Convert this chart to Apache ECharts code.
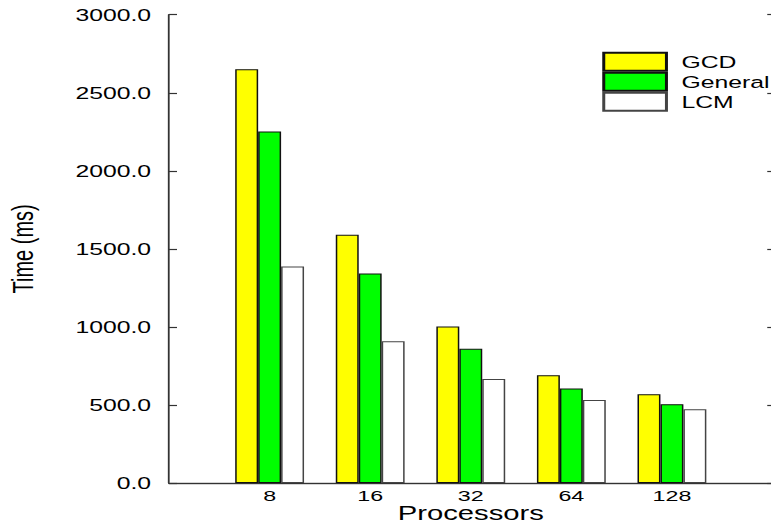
<!DOCTYPE html>
<html>
<head>
<meta charset="utf-8">
<script src="https://cdn.jsdelivr.net/npm/echarts@6/dist/echarts.min.js"></script>
<style>
  html, body { margin: 0; padding: 0; background: #fff; overflow: hidden; }
  #wrap { width: 771px; height: 525px; overflow: hidden; }
  #chart { width: 514px; height: 525px; transform: scaleX(1.5); transform-origin: 0 0; }
</style>
</head>
<body>
<div id="wrap"><div id="chart"></div></div>
<script>
// Data
const categories = ['', '8', '16', '32', '64', '128', ''];
const seriesNames = ['GCD', 'General', 'LCM'];
const gcdValues = [null, 2650, 1590, 1002, 690, 568, null];
const generalValues = [null, 2252, 1342, 860, 606, 505, null];
const lcmValues = [null, 1387, 908, 667, 531, 472, null];
const yTicks = [0, 500, 1000, 1500, 2000, 2500, 3000];

const FONT = "'Liberation Sans', Arial, Helvetica, sans-serif";
const chart = echarts.init(document.getElementById('chart'), null, { renderer: 'svg' });

chart.setOption({
  animation: false,
  backgroundColor: '#ffffff',
  grid: { left: 112.7, right: -1, top: 14.7, bottom: 42, containLabel: false, outerBoundsMode: 'none' },
  legend: {
    orient: 'vertical',
    left: 401.5,
    top: 51.7,
    padding: 0,
    itemWidth: 41.8,
    itemHeight: 18,
    itemGap: 0,
    selectedMode: false,
    icon: 'rect',
    data: seriesNames,
    textStyle: { fontFamily: FONT, fontSize: 16.5, lineHeight: 17, color: '#000', padding: [0, 0, 0, 5] }
  },
  xAxis: [
    {
      type: 'category',
      data: categories,
      boundaryGap: false,
      name: 'Processors',
      nameLocation: 'middle',
      nameGap: 21,
      nameMoveOverlap: false,
      nameTextStyle: { fontFamily: FONT, fontSize: 19.5, lineHeight: 19, color: '#000' },
      axisLine: { show: true, lineStyle: { color: '#555', width: 1.3 } },
      axisTick: { show: false },
      axisLabel: { fontFamily: FONT, fontSize: 15.5, color: '#000', margin: 5, interval: 0 },
      splitLine: { show: false }
    },
    {
      type: 'category',
      data: categories,
      boundaryGap: false,
      position: 'top',
      axisLine: { show: true, lineStyle: { color: '#333', width: 1.2 } },
      axisTick: { show: false },
      axisLabel: { show: false },
      splitLine: { show: false }
    }
  ],
  yAxis: [
    {
      type: 'value',
      min: 0,
      max: 3000,
      interval: 500,
      name: 'Time (ms)',
      nameLocation: 'middle',
      nameGap: 88,
      nameRotate: 90,
      nameMoveOverlap: false,
      nameTextStyle: { fontFamily: FONT, fontSize: 20, color: '#000' },
      axisLine: { show: true, lineStyle: { color: '#333', width: 1.2 } },
      axisTick: { show: true, inside: true, length: 5.3, lineStyle: { color: '#333', width: 1.2 } },
      axisLabel: {
        fontFamily: FONT, fontSize: 16.5, color: '#000', margin: 12,
        formatter: function (v) { return yTicks.indexOf(v) >= 0 ? v.toFixed(1) : ''; }
      },
      splitLine: { show: false }
    },
    {
      type: 'value',
      min: 0,
      max: 3000,
      interval: 500,
      position: 'right',
      axisLine: { show: true, lineStyle: { color: '#333', width: 1 } },
      axisTick: { show: true, inside: true, length: 3.5, lineStyle: { color: '#333', width: 1.2 } },
      axisLabel: { show: false },
      splitLine: { show: false }
    }
  ],
  series: [
    {
      name: seriesNames[0], type: 'bar', data: gcdValues, barWidth: 15.3, barGap: '0%',
      itemStyle: { color: '#ffff00', borderColor: '#111', borderWidth: 1 }
    },
    {
      name: seriesNames[1], type: 'bar', data: generalValues, barWidth: 15.3, barGap: '0%',
      itemStyle: { color: '#00ff00', borderColor: '#111', borderWidth: 1 }
    },
    {
      name: seriesNames[2], type: 'bar', data: lcmValues, barWidth: 15.3, barGap: '0%',
      itemStyle: { color: '#ffffff', borderColor: '#444', borderWidth: 1 }
    }
  ]
});
</script>
</body>
</html>
